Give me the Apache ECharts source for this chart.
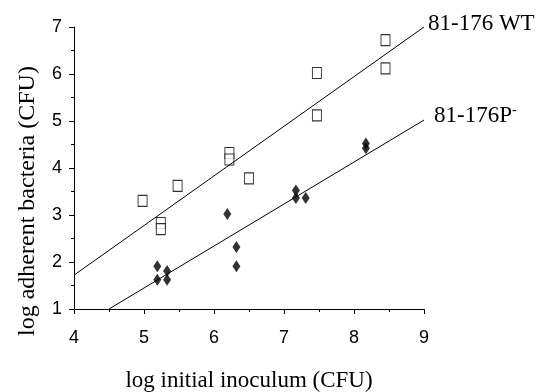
<!DOCTYPE html>
<html>
<head>
<meta charset="utf-8">
<script src="https://cdn.jsdelivr.net/npm/echarts@6/dist/echarts.min.js"></script>
<style>
  html, body { margin: 0; padding: 0; background: #fff; }
  #container { width: 543px; height: 392px; }
</style>
</head>
<body>
<div id="container"></div>
<script>
// wild type (open squares)
const wtX = [4.98, 5.24, 5.24, 5.48, 6.22, 6.22, 6.5, 7.47, 7.47, 8.45, 8.45]
const wtY = [3.3, 2.83, 2.7, 3.62, 4.32, 4.18, 3.78, 6.02, 5.12, 6.72, 6.12]
// P- mutant (filled diamonds)
const pX = [5.19, 5.19, 5.33, 5.33, 6.19, 6.32, 6.32, 7.17, 7.17, 7.31, 8.17, 8.17]
const pY = [1.91, 1.62, 1.81, 1.62, 3.02, 2.32, 1.91, 3.52, 3.36, 3.36, 4.52, 4.42]
// fitted lines
const wtFitX = [4, 9]
const wtFitY = [1.72, 7.0]
const pFitX = [4.5, 9]
const pFitY = [1.0, 5.02]
const xTicks = [4, 5, 6, 7, 8, 9]
const yTicks = [1, 2, 3, 4, 5, 6, 7]

const zip = (a, b) => a.map((v, i) => [v, b[i]])

const serif = '"Liberation Serif", "Times New Roman", serif'
const sans = '"Liberation Sans", Arial, sans-serif'

const myChart = echarts.init(document.getElementById('container'))

const axisCommon = {
  type: 'value',
  nameLocation: 'middle',
  axisLine: { show: true, lineStyle: { color: '#000', width: 1 } },
  axisTick: { show: true, length: 5, lineStyle: { color: '#000' } },
  minorTick: { show: true, splitNumber: 2, length: 3, lineStyle: { color: '#000' } },
  splitLine: { show: false },
  axisLabel: { fontFamily: sans, fontSize: 18, color: '#000' }
}

myChart.setOption({
  animation: false,
  grid: { left: 74, right: 119, top: 27, bottom: 83, outerBoundsMode: 'none' },
  xAxis: Object.assign({}, axisCommon, {
    name: 'log initial inoculum (CFU)',
    nameGap: 60,
    nameTextStyle: { fontFamily: serif, fontSize: 23, color: '#000' },
    min: xTicks[0],
    max: xTicks[xTicks.length - 1],
    interval: 1,
    axisLabel: Object.assign({}, axisCommon.axisLabel, { margin: 20 })
  }),
  yAxis: Object.assign({}, axisCommon, {
    name: 'log adherent bacteria (CFU)',
    nameGap: 34,
    // pushed down a bit, as in the original
    nameTextStyle: { fontFamily: serif, fontSize: 24, color: '#000', padding: [0, 66, 0, 0] },
    min: yTicks[0],
    max: yTicks[yTicks.length - 1],
    interval: 1,
    axisLabel: Object.assign({}, axisCommon.axisLabel, { margin: 12 })
  }),
  series: [
    {
      type: 'line',
      data: zip(wtFitX, wtFitY),
      showSymbol: false,
      lineStyle: { color: '#000', width: 1 },
      endLabel: {
        show: true,
        formatter: '81-176 WT',
        fontFamily: serif,
        fontSize: 23,
        color: '#000',
        distance: 4,
        offset: [0, -3]
      }
    },
    {
      type: 'line',
      data: zip(pFitX, pFitY),
      showSymbol: false,
      lineStyle: { color: '#000', width: 1 },
      endLabel: {
        show: true,
        formatter: '{a|81-176P}{b|-}',
        distance: 10,
        offset: [0, -4],
        rich: {
          a: { fontFamily: serif, fontSize: 23, color: '#000' },
          b: { fontFamily: serif, fontSize: 14, color: '#000', verticalAlign: 'top', padding: [0, 0, 12, 0] }
        }
      }
    },
    {
      type: 'scatter',
      data: zip(wtX, wtY),
      symbol: 'rect',
      symbolSize: [9, 11],
      itemStyle: { color: '#fff', borderColor: '#000', borderWidth: 1 }
    },
    {
      type: 'scatter',
      data: zip(pX, pY),
      symbol: 'diamond',
      symbolSize: [8, 12],
      itemStyle: { color: '#000' }
    }
  ]
})
</script>
</body>
</html>
